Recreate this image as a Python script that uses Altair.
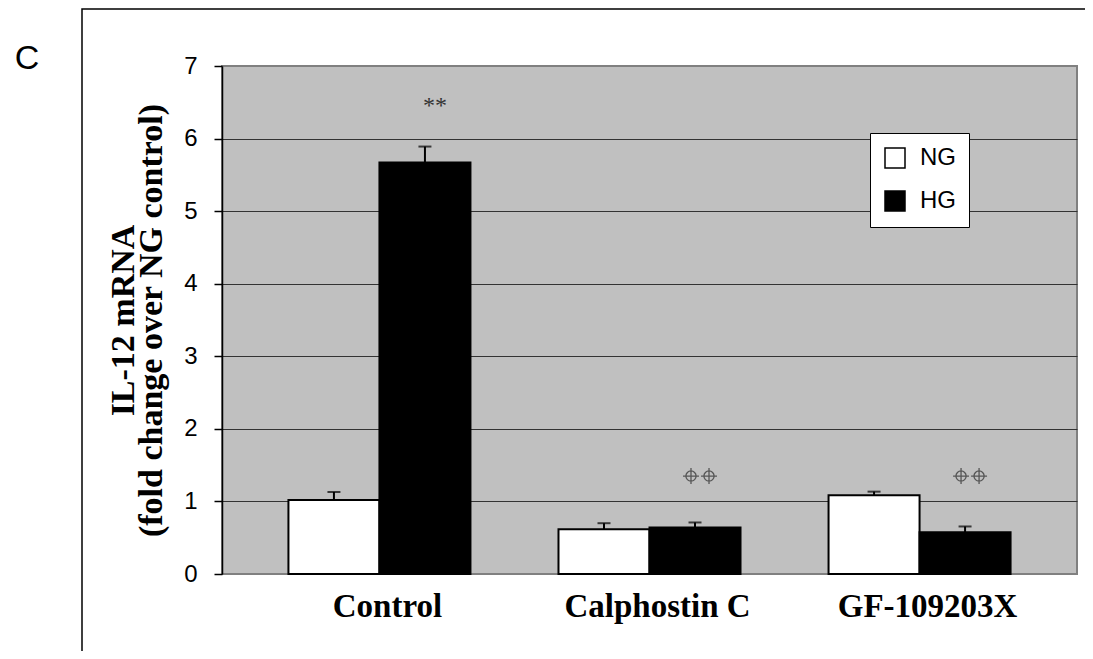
import altair as alt
import pandas as pd

categories = ["Control", "Calphostin C", "GF-109203X"]
groups = ["NG", "HG"]
ng_mean = [1.02, 0.615, 1.085]
hg_mean = [5.67, 0.64, 0.575]
ng_err = [0.11, 0.085, 0.05]
hg_err = [0.22, 0.07, 0.08]
sig_kind = ["stars", "cross", "cross"]
sig_y = [6.45, 1.35, 1.35]

rows = []
for i, c in enumerate(categories):
    rows.append({"cat": c, "grp": "NG", "mean": ng_mean[i], "upper": ng_mean[i] + ng_err[i],
                 "kind": "", "sig_y": 0})
    rows.append({"cat": c, "grp": "HG", "mean": hg_mean[i], "upper": hg_mean[i] + hg_err[i],
                 "kind": sig_kind[i], "sig_y": sig_y[i]})
df = pd.DataFrame(rows)

x_enc = alt.X("cat:N", sort=categories,
              scale=alt.Scale(paddingInner=0.326, paddingOuter=0.246),
              axis=alt.Axis(title=None, labelAngle=0, ticks=False, domain=False,
                            labelFont="Liberation Serif", labelFontWeight="bold",
                            labelFontSize=33, labelColor="black", labelPadding=16,
                            labelOffset=8, labelLimit=0))
xo_enc = alt.XOffset("grp:N", sort=groups, scale=alt.Scale(paddingInner=0, paddingOuter=0))
y_scale = alt.Scale(domain=[0, 7], nice=False)

base = alt.Chart(df)

bars = base.mark_bar(stroke="black", strokeWidth=2).encode(
    x=x_enc,
    xOffset=xo_enc,
    y=alt.Y("mean:Q", scale=y_scale,
            axis=alt.Axis(values=[0, 1, 2, 3, 4, 5, 6, 7], format="d",
                          title=["IL-12 mRNA", "(fold change over NG control)"],
                          titleFont="Liberation Serif", titleFontWeight="bold",
                          titleFontSize=34, titleLineHeight=28, titleColor="black",
                          titleX=-82, titleY=254,
                          labelFont="Liberation Sans", labelFontSize=24, labelColor="black",
                          labelPadding=17, tickSize=8, tickColor="black", tickWidth=1.5,
                          domainColor="black", domainWidth=1.5,
                          grid=True, gridWidth=1.2,
                          gridColor={"condition": {"test": "datum.value === 0 || datum.value === 7",
                                                   "value": "transparent"},
                                     "value": "#333333"})),
    fill=alt.Fill("grp:N", sort=groups,
                  scale=alt.Scale(domain=groups, range=["white", "black"]),
                  legend=alt.Legend(title=None, orient="none", legendX=648, legendY=67,
                                    fillColor="white", strokeColor="black", padding=13,
                                    symbolType="square", symbolSize=400,
                                    symbolStrokeColor="black", symbolStrokeWidth=1.5,
                                    labelFont="Liberation Sans", labelFontSize=24,
                                    labelColor="black", labelOffset=13, rowPadding=17,
                                    symbolOffset=0)),
)

err = base.mark_rule(color="black", strokeWidth=2).encode(
    x=x_enc, xOffset=xo_enc, y=alt.Y("mean:Q", scale=y_scale), y2="upper:Q")

caps = base.mark_tick(color="black", thickness=2, size=13).encode(
    x=x_enc, xOffset=xo_enc, y=alt.Y("upper:Q", scale=y_scale))

stars = base.transform_filter("datum.kind === 'stars'").mark_text(
    font="Liberation Serif", fontSize=24, color="#333333", baseline="middle", dx=10).encode(
    x=x_enc, xOffset=xo_enc, y=alt.Y("sig_y:Q", scale=y_scale), text=alt.value("**"))


def crosshair_path(cx, r=0.3, arm=0.47):
    return (f"M {cx - arm:.3f} 0 L {cx + arm:.3f} 0 M {cx:.3f} {-arm:.3f} L {cx:.3f} {arm:.3f} "
            f"M {cx + r:.3f} 0 A {r} {r} 0 1 1 {cx - r:.3f} 0 A {r} {r} 0 1 1 {cx + r:.3f} 0 ")


pair_shape = crosshair_path(-0.236) + crosshair_path(0.824)

crosses = base.transform_filter("datum.kind === 'cross'").mark_point(
    shape=pair_shape, size=1156, filled=False, stroke="#555555", strokeWidth=1.3,
    opacity=1).encode(
    x=x_enc, xOffset=xo_enc, y=alt.Y("sig_y:Q", scale=y_scale))

frame_df = pd.DataFrame({"k": [0]})
frame = alt.Chart(frame_df).mark_rect(fill="transparent", stroke="black", strokeWidth=1.5).encode(
    x=alt.value(-140), x2=alt.value(900), y=alt.value(-57), y2=alt.value(700))

panel_df = pd.DataFrame({"t": ["C"]})
panel = alt.Chart(panel_df).mark_text(font="Liberation Sans", fontSize=34, color="black",
                                      align="center", baseline="middle").encode(
    x=alt.value(-195), y=alt.value(-7), text="t:N")

chart = alt.layer(bars, err, caps, stars, crosses, frame, panel).properties(
    width=855, height=508,
    autosize=alt.AutoSizeParams(type="none"),
    padding={"left": 214, "top": 58, "right": 8, "bottom": 77},
).configure_view(fill="#C0C0C0", stroke="#808080", strokeWidth=2)

chart.save("out.html", embed_options={"renderer": "svg", "actions": False})
